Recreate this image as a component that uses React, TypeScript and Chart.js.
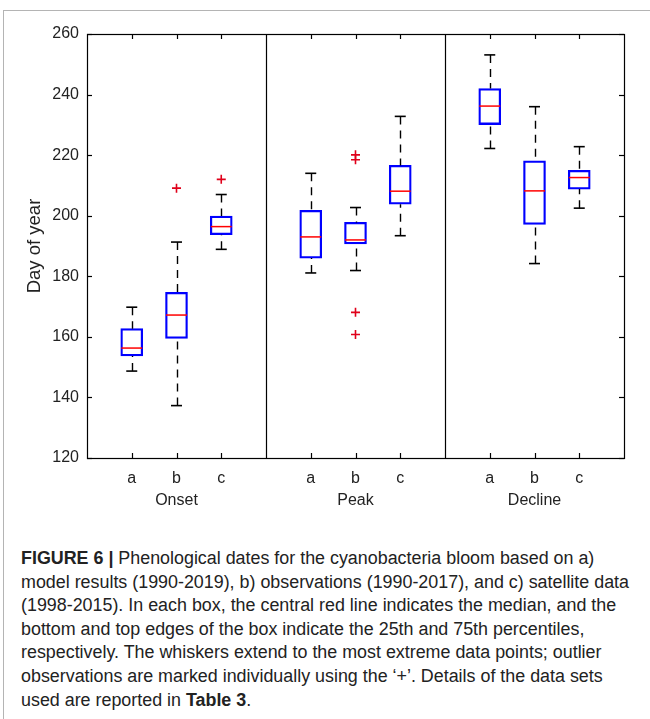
import React, { useEffect, useRef } from 'react';
import { Chart, registerables } from 'chart.js';
Chart.register(...registerables);

// ---- data ----
const groupLabels = ['Onset', 'Peak', 'Decline'];
const groupCenters = [2, 6, 10];
const subLabels = ['a', 'b', 'c'];
const positions = [1, 2, 3, 5, 6, 7, 9, 10, 11];
const q1Values = [153.7, 159.5, 193.7, 186.0, 190.7, 203.8, 230.1, 197.1, 208.8];
const q3Values = [162.7, 174.7, 199.9, 201.8, 197.8, 216.6, 242.0, 218.1, 215.0];
const medianValues = [156.3, 167.2, 196.4, 193.0, 192.0, 208.1, 236.2, 208.2, 212.6];
const minValues = [148.7, 137.3, 188.9, 181.1, 181.9, 193.4, 222.2, 184.2, 202.5];
const maxValues = [169.8, 191.3, 207.0, 214.0, 202.7, 232.8, 253.1, 236.0, 222.8];
const outlierPositions = [2, 3, 6, 6, 6, 6];
const outlierValues = [209.1, 212.0, 220.1, 218.5, 168.1, 160.8];
const yTicks = [120, 140, 160, 180, 200, 220, 240, 260];
const separators = [4, 8];

const FONT = '"Liberation Sans", Arial, sans-serif';
const TEXT = '#222';

const boxExtras = {
  id: 'boxExtras',
  afterDatasetsDraw(chart: any) {
    const { ctx, chartArea, scales } = chart;
    const x = scales.x;
    const y = scales.y;
    const { left, right, top, bottom } = chartArea;
    const seg = (x1: number, y1: number, x2: number, y2: number) => {
      ctx.beginPath();
      ctx.moveTo(x1, y1);
      ctx.lineTo(x2, y2);
      ctx.stroke();
    };
    ctx.save();
    // whiskers
    ctx.strokeStyle = '#000';
    ctx.lineWidth = 1.4;
    ctx.setLineDash([8, 6]);
    positions.forEach((p, i) => {
      const px = Math.round(x.getPixelForValue(p)) + 0.5;
      seg(px, y.getPixelForValue(maxValues[i]), px, y.getPixelForValue(q3Values[i]));
      seg(px, y.getPixelForValue(minValues[i]), px, y.getPixelForValue(q1Values[i]));
    });
    ctx.setLineDash([]);
    // caps
    ctx.lineWidth = 1.6;
    positions.forEach((p, i) => {
      const px = x.getPixelForValue(p);
      seg(px - 5.5, y.getPixelForValue(maxValues[i]), px + 5.5, y.getPixelForValue(maxValues[i]));
      seg(px - 5.5, y.getPixelForValue(minValues[i]), px + 5.5, y.getPixelForValue(minValues[i]));
    });
    // medians
    ctx.strokeStyle = '#ff0000';
    ctx.lineWidth = 1.5;
    positions.forEach((p, i) => {
      const px = x.getPixelForValue(p);
      const py = y.getPixelForValue(medianValues[i]);
      seg(px - 10.5, py, px + 10.5, py);
    });
    // frame
    ctx.strokeStyle = '#000';
    ctx.lineWidth = 1.2;
    ctx.strokeRect(Math.round(left) + 0.5, Math.round(top) + 0.5, Math.round(right - left), Math.round(bottom - top));
    separators.forEach((s) => {
      const px = Math.round(x.getPixelForValue(s)) + 0.5;
      seg(px, top, px, bottom);
    });
    // inward ticks
    ctx.lineWidth = 1.2;
    const tl = 5;
    yTicks.forEach((v) => {
      const py = Math.round(y.getPixelForValue(v)) + 0.5;
      seg(left, py, left + tl, py);
      seg(right - tl, py, right, py);
    });
    positions.forEach((p) => {
      const px = Math.round(x.getPixelForValue(p)) + 0.5;
      seg(px, top, px, top + tl);
      seg(px, bottom, px, bottom - tl);
    });
    ctx.restore();
  },
};

function App() {
  const canvasRef = useRef<HTMLCanvasElement | null>(null);
  const capRef = useRef<HTMLDivElement | null>(null);
  const lineRef = useRef<HTMLSpanElement | null>(null);

  useEffect(() => {
    if (!canvasRef.current) return;
    const chart = new Chart(canvasRef.current, {
      type: 'bar',
      data: {
        datasets: [
          {
            type: 'bar',
            data: positions.map((p, i) => ({ x: p, y: [q1Values[i], q3Values[i]] })) as any,
            backgroundColor: 'rgba(0,0,0,0)',
            borderColor: '#0000ff',
            borderWidth: 1.6,
            borderSkipped: false,
            barThickness: 22,
          } as any,
          {
            type: 'scatter',
            data: outlierPositions.map((p, i) => ({ x: p, y: outlierValues[i] })),
            pointStyle: 'cross',
            pointRadius: 4.5,
            borderColor: '#e0001a',
            backgroundColor: '#e0001a',
            borderWidth: 1.6,
            showLine: false,
          } as any,
        ],
      },
      options: {
        animation: false,
        responsive: false,
        layout: { padding: { left: 0, top: 34, right: 26, bottom: 12 } },
        plugins: { legend: { display: false }, tooltip: { enabled: false } },
        scales: {
          x: {
            type: 'linear',
            position: 'bottom',
            min: 0,
            max: 12,
            offset: false,
            weight: 0,
            grid: { display: false, drawTicks: false, offset: false },
            border: { display: false },
            afterBuildTicks: (s: any) => {
              s.ticks = positions.map((v) => ({ value: v }));
            },
            afterFit: (s: any) => {
              s.height = 26;
            },
            ticks: {
              autoSkip: false,
              maxRotation: 0,
              padding: 11,
              color: TEXT,
              font: { family: FONT, size: 16 },
              callback: (v: any) => subLabels[positions.indexOf(Number(v)) % 3],
            },
          },
          x2: {
            type: 'linear',
            position: 'bottom',
            min: 0,
            max: 12,
            offset: false,
            weight: 1,
            grid: { display: false, drawTicks: false, offset: false },
            border: { display: false },
            afterBuildTicks: (s: any) => {
              s.ticks = groupCenters.map((v) => ({ value: v }));
            },
            afterFit: (s: any) => {
              s.height = 24;
            },
            ticks: {
              autoSkip: false,
              maxRotation: 0,
              padding: 7,
              color: TEXT,
              font: { family: FONT, size: 16 },
              callback: (v: any) => groupLabels[groupCenters.indexOf(Number(v))],
            },
          },
          y: {
            type: 'linear',
            min: 120,
            max: 260,
            grid: { display: false, drawTicks: false },
            border: { display: false },
            afterBuildTicks: (s: any) => {
              s.ticks = yTicks.map((v) => ({ value: v }));
            },
            afterFit: (s: any) => {
              s.width = 87;
            },
            ticks: {
              padding: 8,
              color: TEXT,
              font: { family: FONT, size: 16 },
            },
            title: {
              display: true,
              text: 'Day of year',
              color: TEXT,
              font: { family: FONT, size: 18.5 },
              padding: { top: 24, bottom: 0 },
            },
          },
        },
      } as any,
      plugins: [boxExtras],
    });

    if (capRef.current && lineRef.current) {
      const w = lineRef.current.getBoundingClientRect().width;
      if (w > 0) {
        capRef.current.style.transform = `scaleX(${608 / w})`;
      }
    }
    return () => chart.destroy();
  }, []);

  const capStyle: React.CSSProperties = {
    position: 'absolute',
    left: 21,
    top: 547,
    fontFamily: '"Liberation Sans Narrow", "Liberation Sans", Arial, sans-serif',
    fontSize: 18,
    lineHeight: '23.6px',
    color: '#222',
    whiteSpace: 'nowrap',
    transformOrigin: 'left top',
  };

  return (
    <div style={{ position: 'absolute', left: 0, top: 0, width: 650, height: 719, background: '#fff', overflow: 'hidden' }}>
      <div style={{ position: 'absolute', left: 3, top: 10, width: 700, height: 720, borderTop: '1px solid #b4b4b4', borderLeft: '1px solid #b4b4b4' }} />
      <canvas ref={canvasRef} width={650} height={520} style={{ position: 'absolute', left: 0, top: 0 }} />
      <div ref={capRef} style={capStyle}>
        <b>FIGURE 6 |</b> Phenological dates for the cyanobacteria bloom based on a)
        <br />
        <span ref={lineRef}>model results (1990-2019), b) observations (1990-2017), and c) satellite data</span>
        <br />
        (1998-2015). In each box, the central red line indicates the median, and the
        <br />
        bottom and top edges of the box indicate the 25th and 75th percentiles,
        <br />
        respectively. The whiskers extend to the most extreme data points; outlier
        <br />
        observations are marked individually using the ‘+’. Details of the data sets
        <br />
        used are reported in <b>Table 3</b>.
      </div>
    </div>
  );
}

export default App;
